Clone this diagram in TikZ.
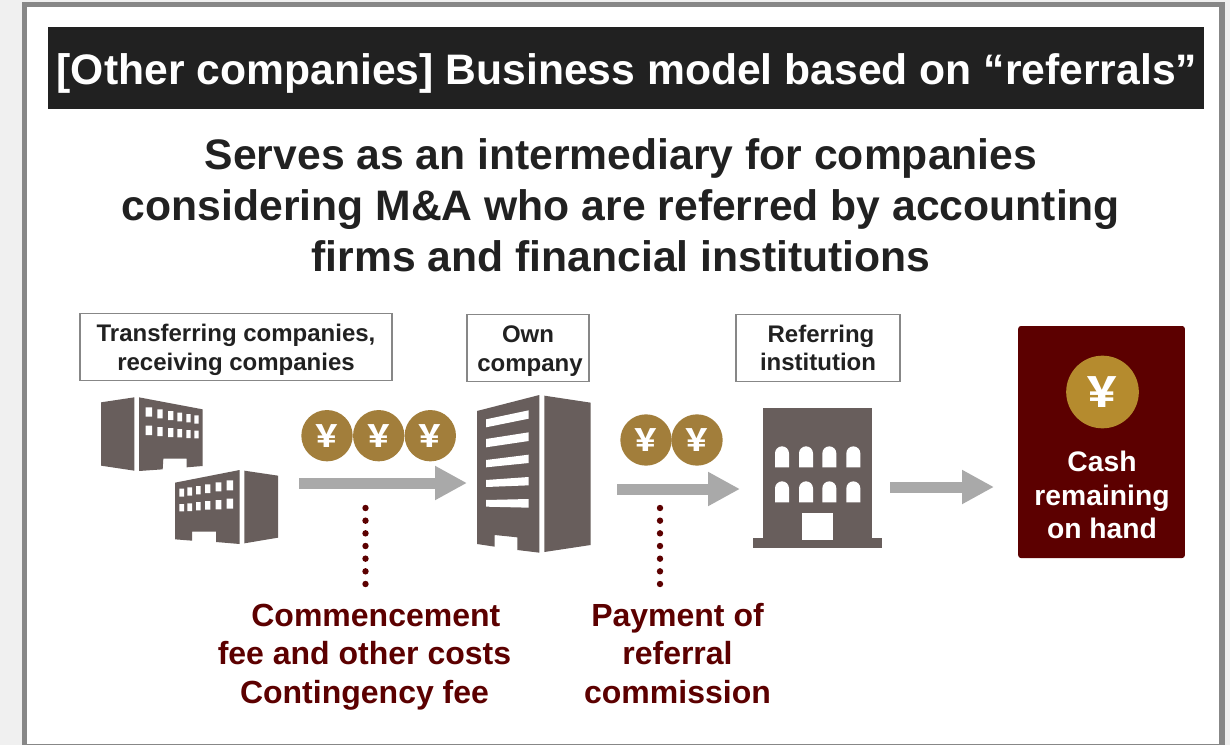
\documentclass[tikz,border=0pt]{standalone}
\usepackage{fontspec}
\setmainfont{Liberation Sans}
\newfontfamily\yenfont{Noto Sans CJK JP}
\usetikzlibrary{arrows.meta}

\definecolor{framegray}{HTML}{878787}
\definecolor{pagegray}{HTML}{F0F0F0}
\definecolor{titleblack}{HTML}{212121}
\definecolor{buildgray}{HTML}{685E5C}
\definecolor{coingold}{HTML}{A27E3B}
\definecolor{bigcoingold}{HTML}{B58B2E}
\definecolor{flowgray}{HTML}{A9A9A9}
\definecolor{darkred}{HTML}{5C0000}

\tikzset{
	labelbox/.style={draw=framegray,line width=1.2pt,fill=white,align=center,inner sep=0pt,
		font=\fontsize{18}{21.5}\selectfont\bfseries,text=titleblack},
	coin/.style={circle,fill=coingold,minimum size=38.5pt,inner sep=0pt,text=white,
		font=\yenfont\bfseries\fontsize{23}{23}\selectfont},
	flow/.style={draw=flowgray,line width=8.25pt,-{Triangle[length=24pt,width=24pt]}},
	dotline/.style={draw=darkred,line width=4.8pt,line cap=round,dash pattern=on 0pt off 9.5pt},
	caption/.style={align=center,text=darkred,font=\fontsize{24}{29}\selectfont\bfseries},
}

\begin{document}
\begin{tikzpicture}[x=.75pt,y=-.75pt]

	% page and frame
	\fill[pagegray] (0,0) rectangle (1230,745);
	\useasboundingbox (0,0) rectangle (1230,745);
	\draw[framegray,line width=4.2pt,fill=white] (24.5,4.5) rectangle (1222,746.5);

	% title and headline
	\fill[titleblack] (48,27) rectangle (1204,109);
	\node (title) at (627,73) {\fontsize{32}{33}\selectfont\bfseries\color{white}[Other companies] Business model based on “referrals”};
	\node[align=center,text=titleblack,font=\fontsize{32}{38.25}\selectfont\bfseries] (headline) at (621,205) {Serves as an intermediary for companies\\considering M\&A who are referred by accounting\\firms and financial institutions};

	% labels on the top
	\node[labelbox,minimum width=234pt,minimum height=50pt] (sides) at (236,347) {\rule{0pt}{17pt}Transferring companies,\\receiving companies};
	\node[labelbox,minimum width=91.5pt,minimum height=50.5pt] (own) at (528,348) {\rule{0pt}{17pt}Own\\\hspace*{3pt}company};
	\node[labelbox,minimum width=123pt,minimum height=50pt] (referrer) at (818,348) {\hspace*{4.5pt}Referring\\institution};

	% transferring and receiving buildings
	\begin{scope}[shift={(80,380)},x=.25pt,y=-.25pt]
		\fill[buildgray] (63,67)--(163,52)--(163,272)--(63,257)--cycle;
		\fill[buildgray] (177,52)--(368,88)--(368,258)--(320,262)--(320,236)--(250,236)--(248,268)--(177,273)--cycle;
		\fill[white] (197,82) rectangle (216,110) (232,88) rectangle (248,115) (264,93) rectangle (280,120) (292,98) rectangle (306,124) (319,102) rectangle (332,127) (343,106) rectangle (356,131);
		\fill[white] (197,137) rectangle (216,165) (232,141) rectangle (248,168) (264,144) rectangle (280,171) (292,147) rectangle (306,172) (319,150) rectangle (332,174) (343,152) rectangle (356,175);
		\fill[buildgray] (285,308)--(479,270)--(479,492)--(408,486)--(408,455)--(336,455)--(336,482)--(285,478)--cycle;
		\fill[buildgray] (493,272)--(594,287)--(594,473)--(493,490)--cycle;
		\fill[white] (298,326) rectangle (312,350) (322,322) rectangle (336,347) (348,318) rectangle (362,343) (375,313) rectangle (391,339) (407,307) rectangle (424,334) (440,301) rectangle (459,331);
		\fill[white] (298,372) rectangle (312,394) (322,370) rectangle (336,393) (348,366) rectangle (362,391) (375,363) rectangle (391,389) (407,360) rectangle (424,388) (440,356) rectangle (459,386);
	\end{scope}

	% own company building
	\begin{scope}[shift={(460,380)},x=.25pt,y=-.25pt]
		\fill[buildgray] (51,93)--(238,45)--(238,518)--(172,510)--(172,472)--(104,465)--(104,500)--(51,492)--cycle;
		\fill[buildgray] (253,47)--(392,68)--(392,495)--(253,516)--cycle;
		\fill[white] (78,118)--(206,91)--(206,116)--(78,142)--cycle;
		\fill[white] (78,177)--(206,157)--(206,183)--(78,202)--cycle;
		\fill[white] (78,240)--(206,224)--(206,249)--(78,262)--cycle;
		\fill[white] (78,300)--(206,291)--(206,316)--(78,321)--cycle;
		\fill[white] (78,360)--(206,357)--(206,383)--(78,380)--cycle;
	\end{scope}

	% referring institution building
	\begin{scope}[shift={(740,390)},x=.25pt,y=-.25pt]
		\fill[buildgray] (70,54) rectangle (396,445);
		\fill[buildgray] (39,443) rectangle (426,473);
		\fill[white] (105,232)--(105,190) arc[start angle=180,end angle=0,radius=5.25pt]--(147,232)--cycle;
		\fill[white] (177,232)--(177,190) arc[start angle=180,end angle=0,radius=5.25pt]--(219,232)--cycle;
		\fill[white] (247,232)--(247,190) arc[start angle=180,end angle=0,radius=5.25pt]--(289,232)--cycle;
		\fill[white] (319,232)--(319,190) arc[start angle=180,end angle=0,radius=5.25pt]--(361,232)--cycle;
		\fill[white] (105,337)--(105,295) arc[start angle=180,end angle=0,radius=5.25pt]--(147,337)--cycle;
		\fill[white] (177,337)--(177,295) arc[start angle=180,end angle=0,radius=5.25pt]--(219,337)--cycle;
		\fill[white] (247,337)--(247,295) arc[start angle=180,end angle=0,radius=5.25pt]--(289,337)--cycle;
		\fill[white] (319,337)--(319,295) arc[start angle=180,end angle=0,radius=5.25pt]--(361,337)--cycle;
		\fill[white] (186,368) rectangle (279,450);
	\end{scope}

	% coins
	\node[coin] (coinA) at (327,435.7) {￥};
	\node[coin] (coinB) at (378.7,435.7) {￥};
	\node[coin] (coinC) at (430.3,435.7) {￥};
	\node[coin] (coinD) at (646,440) {￥};
	\node[coin] (coinE) at (697,440) {￥};

	% cash on hand
	\node[fill=darkred,rounded corners=2pt,minimum width=125pt,minimum height=174pt,inner sep=0pt] (cash) at (1101.5,442) {};
	\node[coin,fill=bigcoingold,minimum size=54.5pt,font=\yenfont\bfseries\fontsize{31}{31}\selectfont] (coinF) at (1102.5,392) {￥};
	\node[align=center,text=white,font=\fontsize{21.2}{25}\selectfont\bfseries] (cashtext) at (1102,495) {Cash\\remaining\\on hand};

	% money flows
	\coordinate (A1) at (299,483);
	\coordinate (A2) at (467,483);
	\coordinate (B1) at (617,489);
	\coordinate (B2) at (740,489);
	\coordinate (C1) at (890,487);
	\coordinate (C2) at (994,487);
	\draw[flow] (A1) -- (A2);
	\draw[flow] (B1) -- (B2);
	\draw[flow] (C1) -- (C2);

	% captions and their dots
	\node[caption] (fees) at (364.5,657) {\hspace*{17pt}Commencement\\fee and other costs\\Contingency fee};
	\node[caption] (commission) at (677.5,653.5) {Payment of\\referral\\commission};
	\coordinate (D1) at (365.5,508);
	\coordinate (D2) at (365.5,584);
	\coordinate (E1) at (660,508);
	\coordinate (E2) at (660,584);
	\draw[dotline] (D1) -- (D2);
	\draw[dotline] (E1) -- (E2);

\end{tikzpicture}
\end{document}
